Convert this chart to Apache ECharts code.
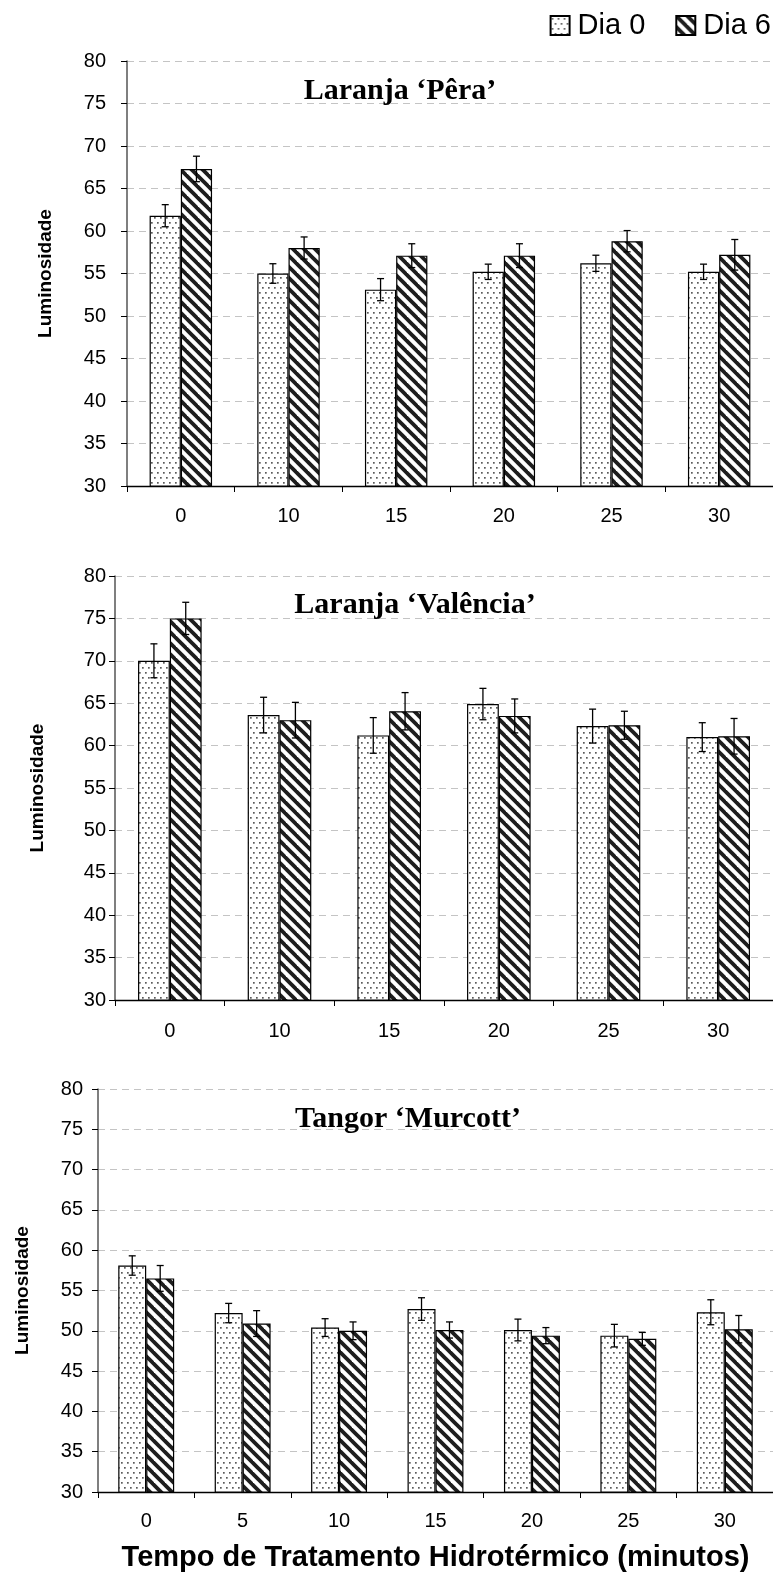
<!DOCTYPE html>
<html><head><meta charset="utf-8">
<script src="https://cdn.jsdelivr.net/npm/echarts@6/dist/echarts.min.js"></script>
<style>html,body{margin:0;padding:0;background:#fff}#c{width:773px;height:1574px}</style>
</head><body><div id="c"></div>
<script>
// ---- data ----
const seriesNames = ['Dia 0', 'Dia 6'];
const titles = ['Laranja \u2018P\u00eara\u2019', 'Laranja \u2018Val\u00eancia\u2019', 'Tangor \u2018Murcott\u2019'];
const yAxisName = 'Luminosidade';
const xAxisName = 'Tempo de Tratamento Hidrot\u00e9rmico (minutos)';

const catsPera = ['0', '10', '15', '20', '25', '30'];
const peraDia0 = [61.8, 55.0, 53.1, 55.2, 56.2, 55.2];
const peraDia0Err = [1.3, 1.15, 1.3, 0.9, 0.95, 0.9];
const peraDia6 = [67.3, 58.0, 57.1, 57.1, 58.8, 57.2];
const peraDia6Err = [1.5, 1.3, 1.4, 1.4, 1.25, 1.8];

const catsValencia = ['0', '10', '15', '20', '25', '30'];
const valenciaDia0 = [70.0, 63.6, 61.2, 64.9, 62.3, 61.0];
const valenciaDia0Err = [2.0, 2.1, 2.1, 1.85, 2.0, 1.7];
const valenciaDia6 = [75.0, 63.0, 64.05, 63.5, 62.4, 61.1];
const valenciaDia6Err = [1.9, 2.1, 2.2, 2.0, 1.65, 2.1];

const catsMurcott = ['0', '5', '10', '15', '20', '25', '30'];
const murcottDia0 = [58.1, 52.2, 50.4, 52.7, 50.1, 49.4, 52.3];
const murcottDia0Err = [1.2, 1.2, 1.1, 1.4, 1.35, 1.4, 1.55];
const murcottDia6 = [56.5, 50.9, 50.0, 50.1, 49.4, 49.0, 50.2];
const murcottDia6Err = [1.6, 1.6, 1.1, 1.0, 1.0, 0.8, 1.7];

const yTicks = { min: 30, max: 80, interval: 5 };

// ---- patterns ----
function dotPattern() {
  const c = document.createElement('canvas');
  c.width = 6; c.height = 10;
  const g = c.getContext('2d');
  g.fillStyle = '#fff'; g.fillRect(0, 0, 6, 10);
  g.fillStyle = '#5a5a5a';
  g.fillRect(1, 2, 1.7, 1.7);
  g.fillRect(4, 7, 1.7, 1.7);
  return { image: c, repeat: 'repeat' };
}
function stripePattern() {
  const P = 11;
  const c = document.createElement('canvas');
  c.width = P; c.height = P;
  const g = c.getContext('2d');
  g.fillStyle = '#fff'; g.fillRect(0, 0, P, P);
  g.strokeStyle = '#1e1e1e'; g.lineWidth = 3.8;
  for (const o of [-P, 0, P]) {
    g.beginPath(); g.moveTo(o - 2, -2); g.lineTo(o + P + 2, P + 2); g.stroke();
  }
  return { image: c, repeat: 'repeat' };
}
const PAT0 = dotPattern();
const PAT6 = stripePattern();

const BAR_PCT = 0.29;
const FONT = '"Liberation Sans", Arial, sans-serif';

const charts = [
  { cats: catsPera, d0: peraDia0, e0: peraDia0Err, d6: peraDia6, e6: peraDia6Err,
    grid: { left: 127, top: 61, width: 646, height: 425 }, labelMargin: 21, nameGap: 72, xMargin: 20,
    title: { x: 395, y: 71 } },
  { cats: catsValencia, d0: valenciaDia0, e0: valenciaDia0Err, d6: valenciaDia6, e6: valenciaDia6Err,
    grid: { left: 115, top: 576, width: 662, height: 424 }, labelMargin: 9, nameGap: 68, xMargin: 21,
    title: { x: 410, y: 585 } },
  { cats: catsMurcott, d0: murcottDia0, e0: murcottDia0Err, d6: murcottDia6, e6: murcottDia6Err,
    grid: { left: 98, top: 1089, width: 676, height: 403 }, labelMargin: 15, nameGap: 66, xMargin: 19,
    title: { x: 403, y: 1099 } }
];

function errRender(sign) {
  return function (params, api) {
    const i = api.value(0), v = api.value(1), e = api.value(2);
    const band = api.size([1, 0])[0];
    const cx = api.coord([i, v])[0] + sign * band * BAR_PCT / 2;
    const top = api.coord([i, v + e])[1];
    const bot = api.coord([i, v - e])[1];
    const cap = 3.5;
    const st = { stroke: '#000', lineWidth: 1.3 };
    return { type: 'group', children: [
      { type: 'line', shape: { x1: cx, y1: top, x2: cx, y2: bot }, style: st },
      { type: 'line', shape: { x1: cx - cap, y1: top, x2: cx + cap, y2: top }, style: st },
      { type: 'line', shape: { x1: cx - cap, y1: bot, x2: cx + cap, y2: bot }, style: st }
    ] };
  };
}

const option = {
  animation: false,
  backgroundColor: '#fff',
  legend: {
    data: seriesNames, right: 2, top: 11, padding: 0, itemWidth: 19, itemHeight: 19, itemGap: 30,
    icon: 'rect',
    textStyle: { fontSize: 29, color: '#000', fontFamily: FONT, padding: [0, 0, 0, 3] }
  },
  title: [], grid: [], xAxis: [], yAxis: [], series: []
};

charts.forEach((ch, k) => {
  option.title.push({ text: titles[k], left: ch.title.x, top: ch.title.y, textAlign: 'center',
    textStyle: { fontFamily: '"Liberation Serif", "Times New Roman", serif', fontWeight: 'bold', fontSize: 30, color: '#000' } });
  option.grid.push(ch.grid);
  const xa = {
    type: 'category', gridIndex: k, data: ch.cats,
    axisLine: { lineStyle: { color: '#000', width: 1.3 } },
    axisTick: { show: true, alignWithLabel: false, length: 6, lineStyle: { color: '#000' } },
    axisLabel: { fontSize: 20, color: '#000', fontFamily: FONT, margin: ch.xMargin },
    splitLine: { show: false }
  };
  if (k === 2) {
    xa.name = xAxisName; xa.nameLocation = 'middle'; xa.nameGap = 51;
    xa.nameTextStyle = { fontSize: 29, fontWeight: 'bold', color: '#000', fontFamily: FONT };
  }
  option.xAxis.push(xa);
  option.yAxis.push({
    type: 'value', gridIndex: k, min: yTicks.min, max: yTicks.max, interval: yTicks.interval,
    axisLine: { show: true, lineStyle: { color: '#555', width: 1.5 } },
    axisTick: { show: true, length: 6, lineStyle: { color: '#000' } },
    axisLabel: { fontSize: 20, color: '#000', fontFamily: FONT, margin: ch.labelMargin },
    splitLine: { show: true, lineStyle: { color: '#c4c4c4', type: [7, 5], width: 1 } },
    name: yAxisName, nameLocation: 'middle', nameGap: ch.nameGap,
    nameTextStyle: { fontSize: 19, fontWeight: 'bold', color: '#000', fontFamily: FONT }
  });
  option.series.push({
    name: seriesNames[0], type: 'bar', xAxisIndex: k, yAxisIndex: k, data: ch.d0,
    barWidth: (BAR_PCT * 100) + '%', barGap: '0%',
    itemStyle: { color: PAT0, borderColor: '#000', borderWidth: 1.2 }, z: 2
  });
  option.series.push({
    name: seriesNames[1], type: 'bar', xAxisIndex: k, yAxisIndex: k, data: ch.d6,
    barWidth: (BAR_PCT * 100) + '%', barGap: '0%',
    itemStyle: { color: PAT6, borderColor: '#000', borderWidth: 1.2 }, z: 2
  });
  option.series.push({
    name: 'err0_' + k, type: 'custom', xAxisIndex: k, yAxisIndex: k, z: 5,
    renderItem: errRender(-1), encode: { x: 0, y: 1 },
    data: ch.d0.map((v, i) => [i, v, ch.e0[i]])
  });
  option.series.push({
    name: 'err6_' + k, type: 'custom', xAxisIndex: k, yAxisIndex: k, z: 5,
    renderItem: errRender(1), encode: { x: 0, y: 1 },
    data: ch.d6.map((v, i) => [i, v, ch.e6[i]])
  });
});

const chart = echarts.init(document.getElementById('c'), null, { renderer: 'canvas' });
chart.setOption(option);
</script>
</body></html>
